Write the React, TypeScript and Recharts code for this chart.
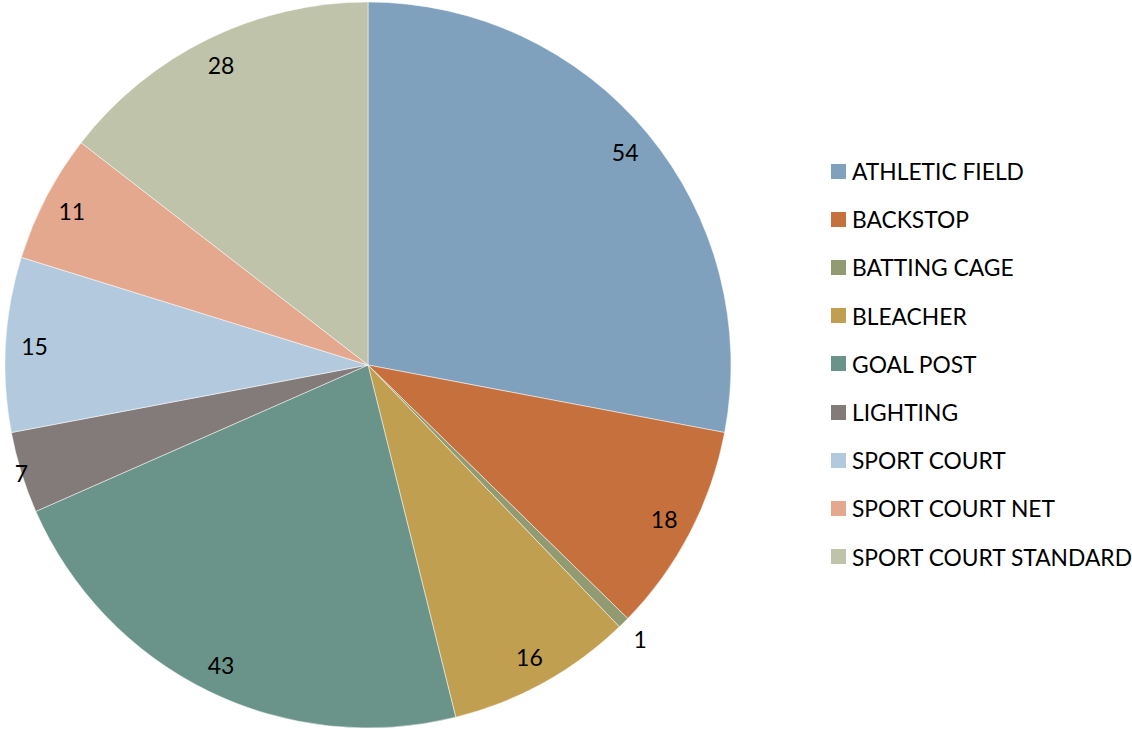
import React from "react";
import { PieChart, Pie, Cell } from "recharts";

const categories = [
  "ATHLETIC FIELD",
  "BACKSTOP",
  "BATTING CAGE",
  "BLEACHER",
  "GOAL POST",
  "LIGHTING",
  "SPORT COURT",
  "SPORT COURT NET",
  "SPORT COURT STANDARD",
];
const counts = [54, 18, 1, 16, 43, 7, 15, 11, 28];
const colors = [
  "#7FA1BD",
  "#C6703D",
  "#929A72",
  "#C19F50",
  "#6A9389",
  "#837B79",
  "#B3CADE",
  "#E4A88E",
  "#BFC3A9",
];

const data = categories.map((name, i) => ({ name, value: counts[i] }));

const FONT = "Lato, 'Liberation Sans', sans-serif";
const RAD = Math.PI / 180;

const renderLabel = (props: any) => {
  const { cx, cy, midAngle, outerRadius, value } = props;
  let f = 0.92;
  if (value <= 1) f = 1.065;
  else if (value <= 7) f = 1.0;
  const r = outerRadius * f;
  const x = cx + r * Math.cos(-midAngle * RAD);
  const y = cy + r * Math.sin(-midAngle * RAD);
  return (
    <text
      x={x}
      y={y}
      fill="#000"
      textAnchor="middle"
      dominantBaseline="central"
      fontFamily={FONT}
      fontSize={23}
    >
      {value}
    </text>
  );
};

export default function App() {
  return (
    <div style={{ position: "absolute", left: 0, top: 0, width: 1132, height: 729, background: "#fff" }}>
      <PieChart width={1132} height={729} margin={{ top: 0, right: 0, bottom: 0, left: 0 }}>
        <Pie
          data={data}
          dataKey="value"
          nameKey="name"
          cx={368}
          cy={365}
          outerRadius={363}
          startAngle={90}
          endAngle={-270}
          stroke="#ffffff"
          strokeWidth={0.5}
          label={renderLabel}
          labelLine={false}
          isAnimationActive={false}
        >
          {data.map((d, i) => (
            <Cell key={d.name} fill={colors[i]} />
          ))}
        </Pie>
      </PieChart>
      <div
        style={{
          position: "absolute",
          left: 831,
          top: 147,
          fontFamily: FONT,
          fontSize: 22.8,
          color: "#000",
        }}
      >
        {categories.map((name, i) => (
          <div
            key={name}
            style={{ display: "flex", alignItems: "center", height: 48.2, whiteSpace: "nowrap" }}
          >
            <span
              style={{
                display: "inline-block",
                width: 15,
                height: 15,
                background: colors[i],
                marginRight: 6,
              }}
            />
            <span>{name}</span>
          </div>
        ))}
      </div>
    </div>
  );
}
